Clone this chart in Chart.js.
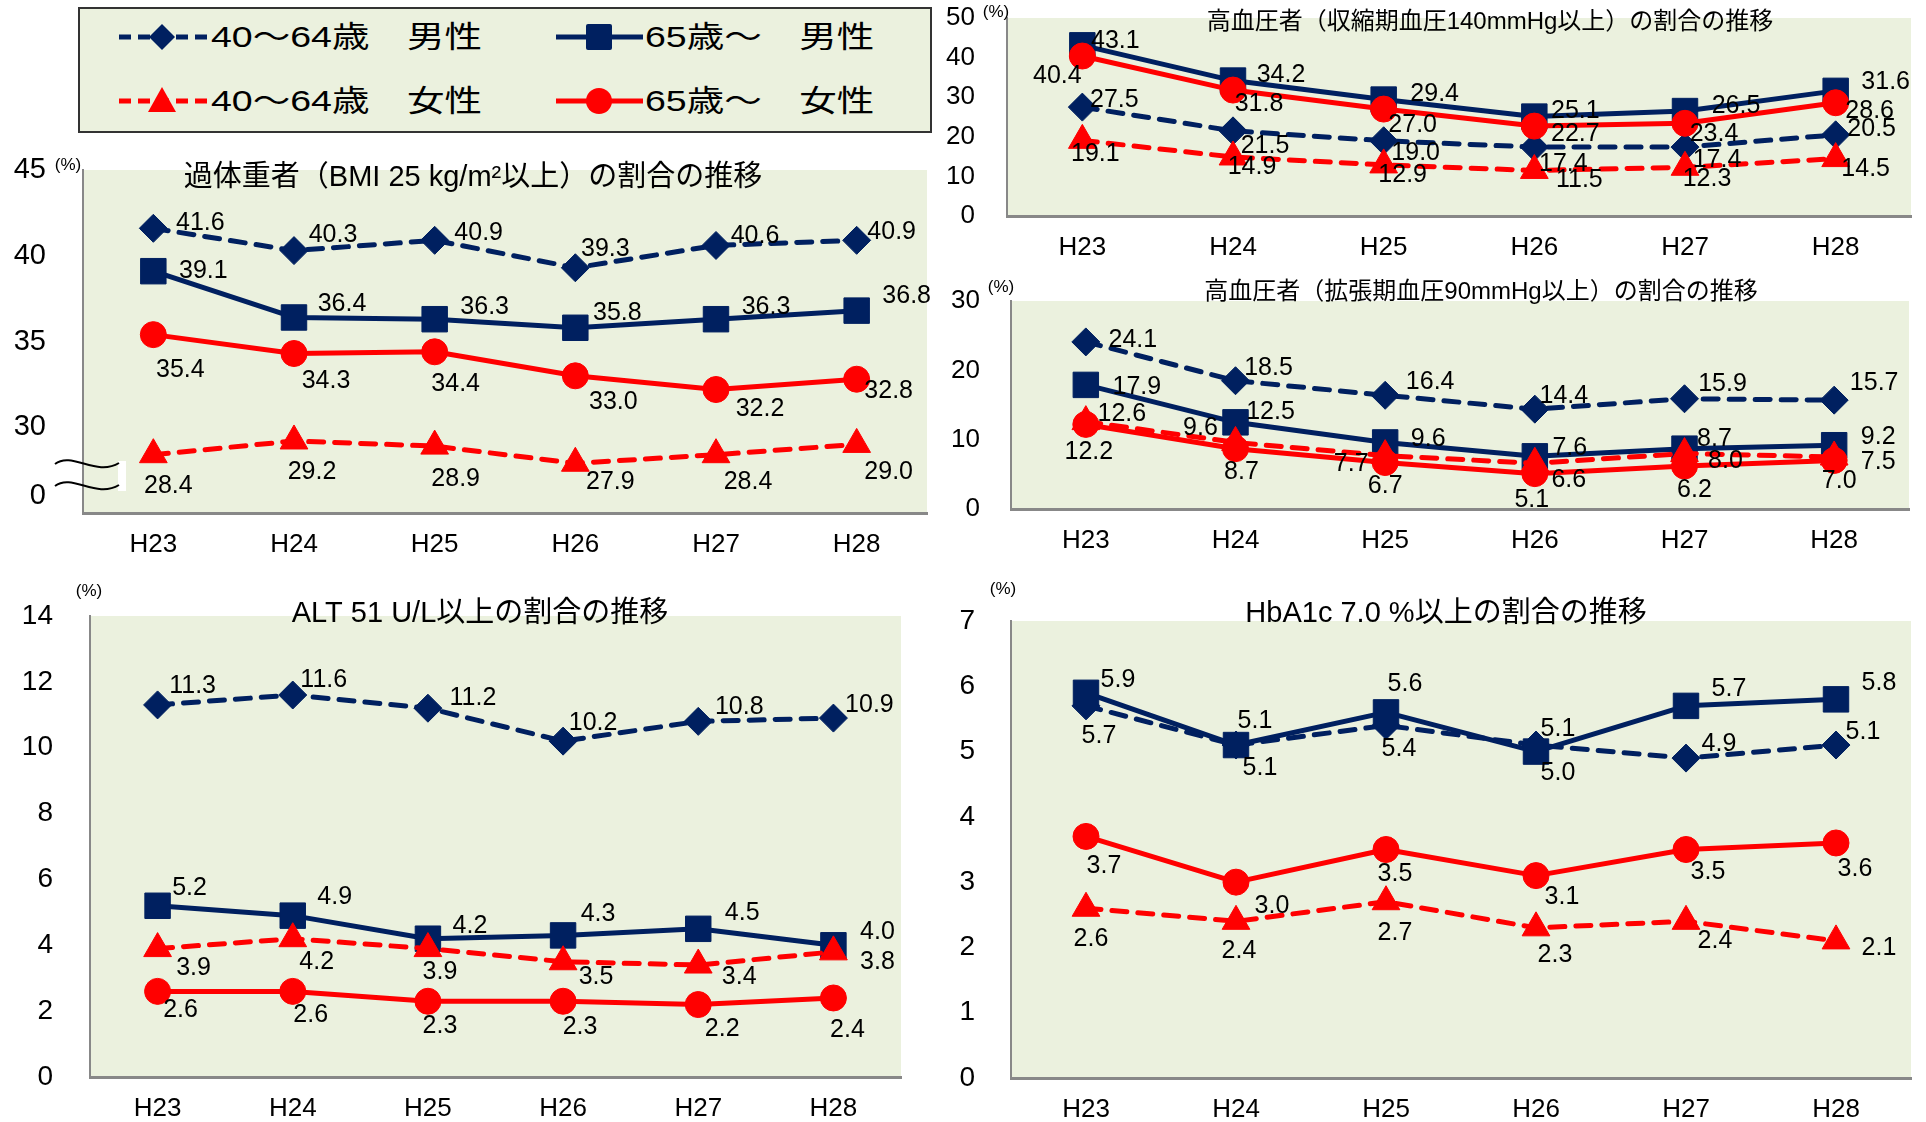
<!DOCTYPE html>
<html><head><meta charset="utf-8">
<script src="https://cdn.jsdelivr.net/npm/chart.js@4"></script>
<style>
html,body{margin:0;padding:0;background:#fff}
body{width:1926px;height:1122px;overflow:hidden;position:relative;font-family:'Liberation Sans','Noto Sans CJK JP',sans-serif}
canvas.c{position:absolute;left:-100px;top:-100px}
#legend{position:absolute;left:78px;top:7px;width:854px;height:126px;box-sizing:border-box;border:2px solid #333;background:#EBF1DE;z-index:5}
.lt{position:absolute;white-space:pre;font-size:30px;line-height:30px;color:#000;transform:translateY(-50%) scaleX(1.25);transform-origin:left center}
#legsvg{position:absolute;left:0;top:0}
</style></head>
<body>
<canvas class="c" id="c1" width="2126" height="1322"></canvas>
<canvas class="c" id="c2" width="2126" height="1322"></canvas>
<canvas class="c" id="c3" width="2126" height="1322"></canvas>
<canvas class="c" id="c4" width="2126" height="1322"></canvas>
<canvas class="c" id="c5" width="2126" height="1322"></canvas>
<div id="legend">
<svg id="legsvg" width="850" height="122" viewBox="0 0 850 122">
  <line x1="39" y1="28" x2="127" y2="28" stroke="#002060" stroke-width="5" stroke-dasharray="12 7"/>
  <polygon points="82,15 95,28 82,41 69,28" fill="#002060"/>
  <line x1="476" y1="28" x2="563" y2="28" stroke="#002060" stroke-width="5"/>
  <rect x="506" y="15" width="26" height="26" rx="2" fill="#002060"/>
  <line x1="39" y1="92" x2="127" y2="92" stroke="#FF0000" stroke-width="5" stroke-dasharray="12 7"/>
  <polygon points="82,78 96,103 68,103" fill="#FF0000"/>
  <line x1="476" y1="92" x2="563" y2="92" stroke="#FF0000" stroke-width="5"/>
  <circle cx="519" cy="92" r="13" fill="#FF0000"/>
</svg>
<span class="lt" style="left:131px;top:28px">40～64歳　男性</span>
<span class="lt" style="left:565px;top:28px">65歳～　男性</span>
<span class="lt" style="left:131px;top:92px">40～64歳　女性</span>
<span class="lt" style="left:565px;top:92px">65歳～　女性</span>
</div>
<script>
// ---------------- data ----------------
const years = ['H23', 'H24', 'H25', 'H26', 'H27', 'H28'];
const seriesNames = ['40～64歳　男性', '65歳～　男性', '40～64歳　女性', '65歳～　女性'];

// 過体重者（BMI 25以上）
const bmiM40 = [41.6, 40.3, 40.9, 39.3, 40.6, 40.9];
const bmiM65 = [39.1, 36.4, 36.3, 35.8, 36.3, 36.8];
const bmiF40 = [28.4, 29.2, 28.9, 27.9, 28.4, 29.0];
const bmiF65 = [35.4, 34.3, 34.4, 33.0, 32.2, 32.8];
const bmiTicks = [26, 30, 35, 40, 45];            // broken axis: 26 position shows "0"
const bmiTickLabels = ['0', '30', '35', '40', '45'];

// 収縮期血圧140以上
const sbpM40 = [27.5, 21.5, 19.0, 17.4, 17.4, 20.5];
const sbpM65 = [43.1, 34.2, 29.4, 25.1, 26.5, 31.6];
const sbpF40 = [19.1, 14.9, 12.9, 11.5, 12.3, 14.5];
const sbpF65 = [40.4, 31.8, 27.0, 22.7, 23.4, 28.6];
const sbpTicks = [0, 10, 20, 30, 40, 50];
const sbpTickLabels = ['0', '10', '20', '30', '40', '50'];

// 拡張期血圧90以上
const dbpM40 = [24.1, 18.5, 16.4, 14.4, 15.9, 15.7];
const dbpM65 = [17.9, 12.5, 9.6, 7.6, 8.7, 9.2];
const dbpF40 = [12.6, 9.6, 7.7, 6.6, 8.0, 7.5];
const dbpF65 = [12.2, 8.7, 6.7, 5.1, 6.2, 7.0];
const dbpTicks = [0, 10, 20, 30];
const dbpTickLabels = ['0', '10', '20', '30'];

// ALT 51以上
const altM40 = [11.3, 11.6, 11.2, 10.2, 10.8, 10.9];
const altM65 = [5.2, 4.9, 4.2, 4.3, 4.5, 4.0];
const altF40 = [3.9, 4.2, 3.9, 3.5, 3.4, 3.8];
const altF65 = [2.6, 2.6, 2.3, 2.3, 2.2, 2.4];
const altTicks = [0, 2, 4, 6, 8, 10, 12, 14];
const altTickLabels = ['0', '2', '4', '6', '8', '10', '12', '14'];

// HbA1c 7.0以上
const hbaM40 = [5.7, 5.1, 5.4, 5.1, 4.9, 5.1];
const hbaM65 = [5.9, 5.1, 5.6, 5.0, 5.7, 5.8];
const hbaF40 = [2.6, 2.4, 2.7, 2.3, 2.4, 2.1];
const hbaF65 = [3.7, 3.0, 3.5, 3.1, 3.5, 3.6];
const hbaTicks = [0, 1, 2, 3, 4, 5, 6, 7];
const hbaTickLabels = ['0', '1', '2', '3', '4', '5', '6', '7'];

// ---------------- label placement (px offsets from marker) ----------------
const bmiLabelOffsets = [
  [[47,-5],[39,-15],[44,-7],[30,-19],[39,-9],[35,-8]],
  [[50,0],[48,-13],[50,-12],[42,-15],[50,-12],[50,-15]],
  [[15,31],[18,31],[21,33],[35,19],[32,27],[32,28]],
  [[27,35],[32,28],[21,32],[38,26],[44,20],[32,12]]
];
const sbpLabelOffsets = [
  [[32,-7],[32,15],[32,12],[29,17],[32,13],[36,-6]],
  [[33,-4],[48,-5],[51,-5],[41,-5],[51,-5],[50,-9]],
  [[13,14],[19,10],[19,10],[45,10],[22,12],[30,11]],
  [[-25,20],[26,14],[29,16],[41,8],[29,11],[34,8]]
];
const dbpLabelOffsets = [
  [[47,-2],[33,-13],[45,-13],[29,-13],[38,-15],[40,-17]],
  [[51,2],[35,-10],[43,-3],[35,-8],[30,-10],[44,-8]],
  [[36,-8],[-35,-14],[-34,8],[34,17],[41,8],[44,5]],
  [[3,28],[6,23],[0,24],[-3,26],[10,24],[5,21]]
];
const altLabelOffsets = [
  [[35,-19],[31,-15],[45,-10],[30,-18],[41,-14],[36,-13]],
  [[32,-18],[42,-19],[42,-13],[35,-21],[44,-16],[44,-13]],
  [[36,20],[24,23],[12,24],[33,15],[41,12],[44,10]],
  [[23,19],[18,24],[12,25],[17,26],[24,25],[14,32]]
];
const hbaLabelOffsets = [
  [[13,30],[24,23],[13,24],[22,-16],[33,-14],[27,-13]],
  [[32,-13],[19,-24],[19,-28],[22,22],[43,-17],[43,-16]],
  [[5,31],[3,30],[9,31],[19,27],[29,20],[43,7]],
  [[18,30],[36,24],[9,25],[26,21],[22,23],[19,26]]
];

// ---------------- styling ----------------
const NAVY = '#002060', RED = '#FF0000', PLOT_BG = '#EBF1DE', AXIS = '#888888';
const FONT = "'Liberation Sans','Noto Sans CJK JP',sans-serif";
const OFF = 100;                      // canvas is shifted by -OFF on both axes
const CAN_W = 2126, CAN_H = 1322;

const panels = [
  { id:'c1', title:'過体重者（BMI 25 kg/m²以上）の割合の推移', tx:473, ty:178, ts:29,
    area:{l:83,t:170,r:927,b:513}, yW:80, xH:56, min:25, max:45, ticks:bmiTicks, tickLabels:bmiTickLabels, yFont:29, yPad:37,
    series:[bmiM40,bmiM65,bmiF40,bmiF65], offs:bmiLabelOffsets, pct:[68,165], brk:true },
  { id:'c2', title:'高血圧者（収縮期血圧140mmHg以上）の割合の推移', tx:1490, ty:22, ts:24,
    area:{l:1007,t:18,r:1911,b:216}, yW:80, xH:56, min:0, max:50, ticks:sbpTicks, tickLabels:sbpTickLabels, yFont:26, yPad:32,
    series:[sbpM40,sbpM65,sbpF40,sbpF65], offs:sbpLabelOffsets, pct:[996,12] },
  { id:'c3', title:'高血圧者（拡張期血圧90mmHg以上）の割合の推移', tx:1481, ty:292, ts:24,
    area:{l:1011,t:301,r:1909,b:509}, yW:80, xH:56, min:0, max:30, ticks:dbpTicks, tickLabels:dbpTickLabels, yFont:26, yPad:31,
    series:[dbpM40,dbpM65,dbpF40,dbpF65], offs:dbpLabelOffsets, pct:[1001,287] },
  { id:'c4', title:'ALT 51 U/L以上の割合の推移', tx:480, ty:614, ts:29,
    area:{l:90,t:616,r:901,b:1077}, yW:85, xH:56, min:0, max:14, ticks:altTicks, tickLabels:altTickLabels, yFont:28, yPad:37,
    series:[altM40,altM65,altF40,altF65], offs:altLabelOffsets, pct:[89,591] },
  { id:'c5', title:'HbA1c 7.0 %以上の割合の推移', tx:1446, ty:614, ts:29,
    area:{l:1011,t:621,r:1911,b:1078}, yW:80, xH:56, min:0, max:7, ticks:hbaTicks, tickLabels:hbaTickLabels, yFont:28, yPad:36,
    series:[hbaM40,hbaM65,hbaF40,hbaF65], offs:hbaLabelOffsets, pct:[1003,589] }
];

function decor(p) {
  return {
    id: 'decor_' + p.id,
    beforeDraw(chart) {
      const a = chart.chartArea, ctx = chart.ctx;
      ctx.save();
      ctx.fillStyle = PLOT_BG;
      ctx.fillRect(a.left, a.top, a.right - a.left, a.bottom - a.top);
      ctx.restore();
    },
    afterDatasetsDraw(chart) {
      const ctx = chart.ctx;
      ctx.save();
      ctx.fillStyle = '#000';
      ctx.font = '25px ' + FONT;
      ctx.textAlign = 'center';
      ctx.textBaseline = 'middle';
      chart.data.datasets.forEach((ds, di) => {
        const meta = chart.getDatasetMeta(di);
        meta.data.forEach((el, i) => {
          const o = p.offs[di][i];
          ctx.fillText(ds.data[i].toFixed(1), el.x + o[0], el.y + o[1]);
        });
      });
      ctx.font = p.ts + 'px ' + FONT;
      ctx.fillText(p.title, p.tx + OFF, p.ty + OFF);
      ctx.font = '17px ' + FONT;
      ctx.fillText('(%)', p.pct[0] + OFF, p.pct[1] + OFF);
      ctx.restore();
    },
    afterDraw(chart) {
      if (!p.brk) return;
      const ctx = chart.ctx;
      ctx.save();
      ctx.translate(OFF, OFF);
      ctx.fillStyle = '#fff';
      ctx.fillRect(118, 461, 8, 30);
      ctx.strokeStyle = '#000';
      ctx.lineWidth = 2;
      [463, 485].forEach(y => {
        ctx.beginPath();
        ctx.moveTo(55, y + 1);
        ctx.bezierCurveTo(72, y - 12, 96, y + 14, 119, y);
        ctx.stroke();
      });
      ctx.restore();
    }
  };
}

const styles = [
  { color: NAVY, dash: [15, 11], width: 5, point: 'rectRot', r: 14, order: 3 },
  { color: NAVY, dash: [], width: 5, point: 'rect', r: 18, order: 2 },
  { color: RED, dash: [15, 11], width: 5, point: 'triangle', r: 16, order: 1 },
  { color: RED, dash: [], width: 5, point: 'circle', r: 13, order: 0 }
];

panels.forEach(p => {
  const a = p.area;
  new Chart(document.getElementById(p.id), {
    type: 'line',
    data: {
      labels: years,
      datasets: p.series.map((s, i) => ({
        label: seriesNames[i],
        data: s,
        borderColor: styles[i].color,
        backgroundColor: styles[i].color,
        borderWidth: styles[i].width,
        borderDash: styles[i].dash,
        borderCapStyle: styles[i].dash.length ? 'round' : 'butt',
        borderJoinStyle: 'round',
        pointStyle: styles[i].point,
        pointRadius: styles[i].r,
        pointBackgroundColor: styles[i].color,
        pointBorderColor: styles[i].color,
        pointBorderWidth: 1,
        tension: 0,
        fill: false,
        order: styles[i].order,
        clip: false
      }))
    },
    options: {
      responsive: false,
      animation: false,
      devicePixelRatio: 1,
      events: [],
      layout: {
        autoPadding: false,
        padding: { left: a.l + OFF - p.yW, right: CAN_W - (a.r + OFF), top: a.t + OFF, bottom: CAN_H - (a.b + OFF) - p.xH }
      },
      plugins: { legend: { display: false }, title: { display: false }, tooltip: { enabled: false } },
      scales: {
        x: {
          type: 'category',
          offset: true,
          grid: { display: false, drawTicks: false },
          border: { display: true, color: AXIS, width: 3 },
          ticks: { color: '#000', font: { family: FONT, size: 26 }, padding: 16, autoSkip: false, maxRotation: 0 },
          afterFit(s) { s.height = p.xH; }
        },
        y: {
          min: p.min, max: p.max,
          grid: { display: false, drawTicks: false },
          border: { display: true, color: AXIS, width: 2 },
          afterBuildTicks(s) { s.ticks = p.ticks.map(v => ({ value: v })); },
          ticks: {
            color: '#000', font: { family: FONT, size: p.yFont }, padding: p.yPad, autoSkip: false,
            callback: (v, i) => p.tickLabels[i]
          },
          afterFit(s) { s.width = p.yW; }
        }
      }
    },
    plugins: [decor(p)]
  });
});
</script>
</body></html>
